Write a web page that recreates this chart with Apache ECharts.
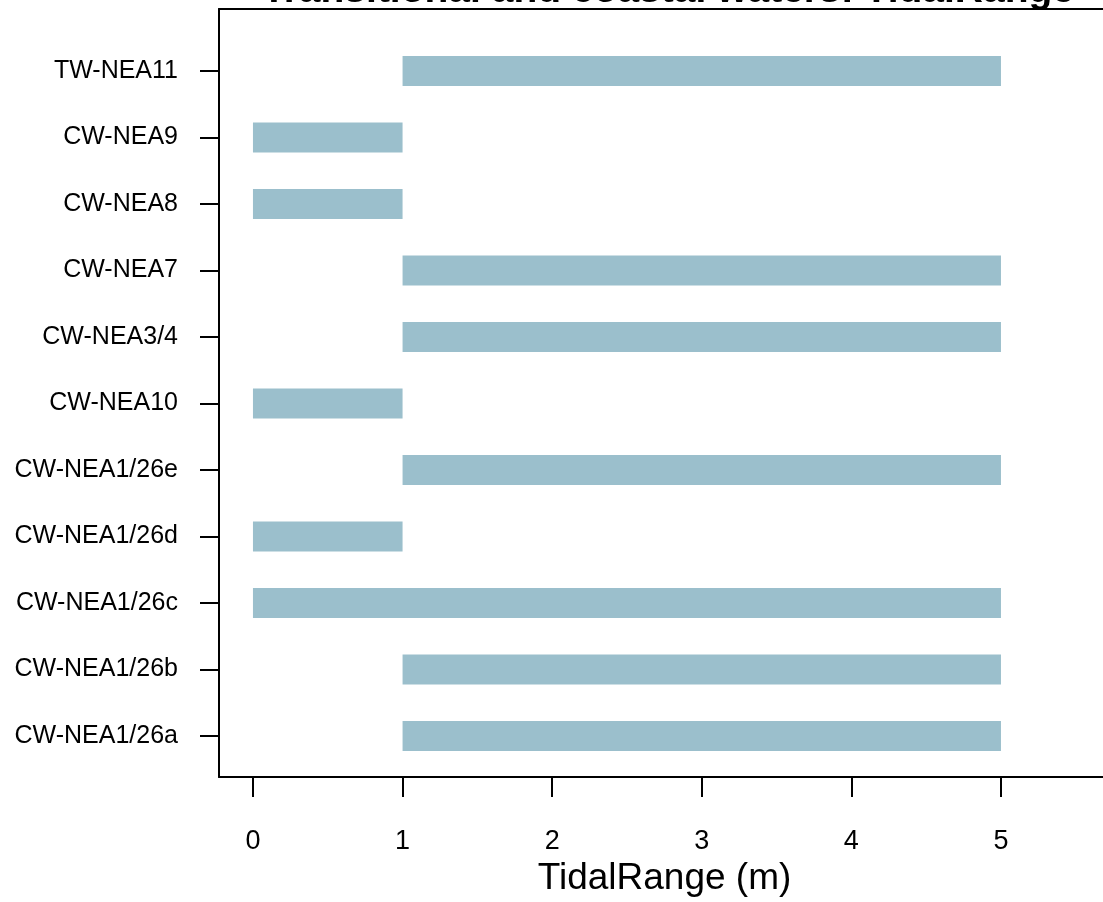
<!DOCTYPE html>
<html>
<head>
<meta charset="utf-8">
<script src="https://cdn.jsdelivr.net/npm/echarts@6/dist/echarts.min.js"></script>
<style>
  html, body { margin: 0; padding: 0; background: #fff; }
  #chart { width: 1103px; height: 902px; }
</style>
</head>
<body>
<div id="chart"></div>
<script>
// Water bodies, listed bottom to top as they appear on the axis
const waterBodies = [
  'CW-NEA1/26a', 'CW-NEA1/26b', 'CW-NEA1/26c', 'CW-NEA1/26d', 'CW-NEA1/26e',
  'CW-NEA10', 'CW-NEA3/4', 'CW-NEA7', 'CW-NEA8', 'CW-NEA9', 'TW-NEA11'
];
// Tidal range interval (m) for each water body
const rangeLow  = [1, 1, 0, 0, 1, 0, 1, 1, 0, 0, 1];
const rangeHigh = [5, 5, 5, 1, 5, 1, 5, 5, 1, 1, 5];
const xTicks = [0, 1, 2, 3, 4, 5];

const FONT = '"Liberation Sans", Arial, Helvetica, sans-serif';
const BAR_COLOR = '#9bbfcc';
const X_MIN = -0.227, X_MAX = 5.682;
const frameLine = { show: true, onZero: false, lineStyle: { color: '#000', width: 2 } };

const chart = echarts.init(document.getElementById('chart'), null, { renderer: 'canvas' });

chart.setOption({
  backgroundColor: '#ffffff',
  animation: false,
  title: {
    text: 'Transitional and coastal waters: TidalRange',
    left: 663,
    top: -33,
    textAlign: 'center',
    textStyle: { fontFamily: FONT, fontSize: 39, fontWeight: 'bold', color: '#000' }
  },
  grid: [
    // plot frame with the x scale (open on the right)
    { left: 219, top: 9, right: 0, bottom: 125, outerBoundsMode: 'none', containLabel: false },
    // band area holding the bars
    { left: 219, top: 37.75, right: 0, bottom: 132.75, outerBoundsMode: 'none', containLabel: false }
  ],
  xAxis: [
    {
      gridIndex: 0, type: 'value', min: X_MIN, max: X_MAX, position: 'bottom',
      axisLine: frameLine,
      splitLine: { show: false },
      axisTick: { show: true, customValues: xTicks, length: 20, lineStyle: { color: '#000', width: 2 } },
      axisLabel: { customValues: xTicks, margin: 51, color: '#000', fontFamily: FONT, fontSize: 27 },
      name: 'TidalRange (m)',
      nameLocation: 'middle',
      nameGap: 78,
      nameTextStyle: { fontFamily: FONT, fontSize: 37, color: '#000', padding: [0, 0, 0, 7] }
    },
    {
      gridIndex: 0, type: 'value', min: X_MIN, max: X_MAX, position: 'top',
      axisLine: frameLine,
      axisTick: { show: false }, axisLabel: { show: false }, splitLine: { show: false }
    },
    { gridIndex: 1, type: 'value', min: X_MIN, max: X_MAX, show: false }
  ],
  yAxis: [
    {
      gridIndex: 0, type: 'value', position: 'left',
      axisLine: frameLine,
      axisTick: { show: false }, axisLabel: { show: false }, splitLine: { show: false }
    },
    {
      gridIndex: 1, type: 'category', data: waterBodies, position: 'left',
      axisLine: { show: false, onZero: false },
      axisTick: { show: true, alignWithLabel: true, length: 19, lineStyle: { color: '#000', width: 2 } },
      axisLabel: { margin: 41, fontFamily: FONT, fontSize: 25, color: '#000' },
      splitLine: { show: false }
    }
  ],
  series: [
    {
      type: 'bar', xAxisIndex: 2, yAxisIndex: 1, stack: 'range',
      data: rangeLow, barWidth: 30,
      itemStyle: { color: 'transparent' },
      silent: true
    },
    {
      type: 'bar', xAxisIndex: 2, yAxisIndex: 1, stack: 'range',
      data: rangeHigh.map((h, i) => h - rangeLow[i]), barWidth: 30,
      itemStyle: { color: BAR_COLOR }
    }
  ]
});
</script>
</body>
</html>
